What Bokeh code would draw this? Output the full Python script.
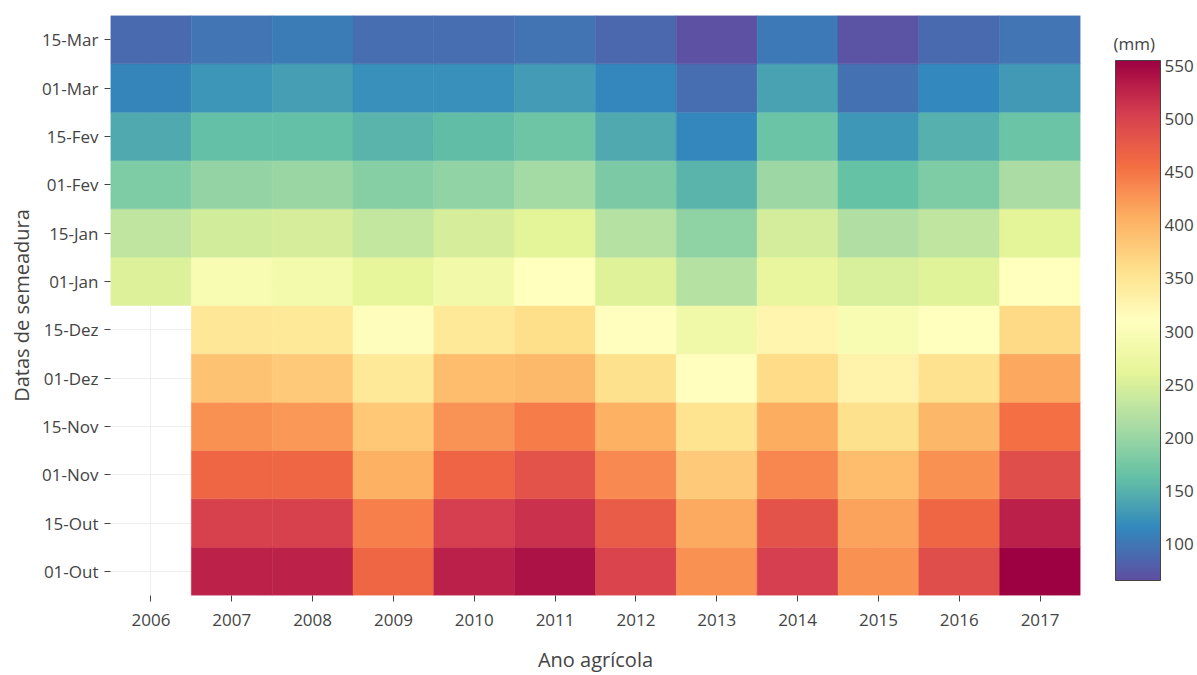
import numpy as np
from bokeh.plotting import figure
from bokeh.models import ColumnDataSource, LinearColorMapper, ColorBar, FixedTicker
from bokeh.embed import file_html
from bokeh.resources import INLINE
from bokeh.transform import transform

# ---- data ----
years = ["2006", "2007", "2008", "2009", "2010", "2011",
         "2012", "2013", "2014", "2015", "2016", "2017"]
dates = ["01-Out", "15-Out", "01-Nov", "15-Nov", "01-Dez", "15-Dez",
         "01-Jan", "15-Jan", "01-Fev", "15-Fev", "01-Mar", "15-Mar"]

v_01_out = [None, 528, 528, 465, 530, 540, 499, 430, 505, 430, 489, 554]
v_15_out = [None, 503, 503, 443, 505, 516, 474, 411, 483, 416, 465, 530]
v_01_nov = [None, 465, 465, 406, 467, 484, 436, 381, 438, 393, 430, 489]
v_15_nov = [None, 430, 424, 383, 428, 445, 406, 353, 408, 358, 399, 455]
v_01_dez = [None, 387, 381, 345, 393, 398, 358, 312, 363, 331, 355, 412]
v_15_dez = [None, 348, 345, 314, 345, 360, 312, 280, 326, 295, 310, 365]
v_01_jan = [254, 295, 287, 265, 284, 310, 256, 222, 268, 251, 258, 310]
v_15_jan = [229, 244, 249, 233, 248, 260, 222, 193, 246, 217, 229, 260]
v_01_fev = [182, 197, 200, 188, 194, 208, 180, 152, 203, 164, 182, 212]
v_15_fev = [144, 163, 163, 153, 160, 170, 143, 115, 168, 128, 150, 168]
v_01_mar = [112, 127, 134, 122, 123, 131, 115, 93, 137, 95, 116, 130]
v_15_mar = [90, 100, 105, 93, 93, 97, 88, 68, 104, 70, 90, 100]

rows = [v_01_out, v_15_out, v_01_nov, v_15_nov, v_01_dez, v_15_dez,
        v_01_jan, v_15_jan, v_01_fev, v_15_fev, v_01_mar, v_15_mar]

cb_ticks = [100, 150, 200, 250, 300, 350, 400, 450, 500, 550]

# ---- colour scale (reversed Spectral) ----
stops = [(94, 79, 162), (50, 136, 189), (102, 194, 165), (171, 221, 164),
         (230, 245, 152), (255, 255, 191), (254, 224, 139), (253, 174, 97),
         (244, 109, 67), (213, 62, 79), (158, 1, 66)]
stops = np.array(stops, dtype=float)
t = np.linspace(0, 1, 256)
pos = np.linspace(0, 1, len(stops))
palette = []
for ti in t:
    r = np.interp(ti, pos, stops[:, 0])
    g = np.interp(ti, pos, stops[:, 1])
    b = np.interp(ti, pos, stops[:, 2])
    palette.append("#%02x%02x%02x" % (int(round(r)), int(round(g)), int(round(b))))

mapper = LinearColorMapper(palette=palette, low=66, high=555)

xs, ys, zs = [], [], []
for d, row in zip(dates, rows):
    for y, v in zip(years, row):
        if v is not None:
            xs.append(y)
            ys.append(d)
            zs.append(v)
src = ColumnDataSource(dict(x=xs, y=ys, z=zs))

FONT = "Open Sans"
TXT = "#444444"

p = figure(width=1197, height=675, x_range=years, y_range=dates,
           output_backend="svg", toolbar_location=None,
           min_border_left=110, min_border_top=15, min_border_bottom=80,
           min_border_right=117)
p.outline_line_color = None

p.rect(x="x", y="y", width=1, height=1, source=src,
       fill_color=transform("z", mapper), line_color=transform("z", mapper),
       line_width=0.5)

p.xgrid.grid_line_color = "#eeeeee"
p.ygrid.grid_line_color = "#eeeeee"
p.xgrid.grid_line_width = 1
p.ygrid.grid_line_width = 1

for ax in (p.xaxis[0], p.yaxis[0]):
    ax.axis_line_color = None
    ax.major_tick_line_color = TXT
    ax.major_tick_in = 0
    ax.major_tick_out = 6
    ax.major_label_text_font = FONT
    ax.major_label_text_font_size = "17px"
    ax.major_label_text_color = TXT
    ax.axis_label_text_font = FONT
    ax.axis_label_text_font_size = "20px"
    ax.axis_label_text_font_style = "normal"
    ax.axis_label_text_color = TXT

p.xaxis.axis_label = "Ano agrícola"
p.yaxis.axis_label = "Datas de semeadura"
p.xaxis.major_label_standoff = 12
p.yaxis.major_label_standoff = 6
p.xaxis.axis_label_standoff = 17
p.yaxis.axis_label_standoff = 4

PAD = 3
cb = ColorBar(color_mapper=mapper, ticker=FixedTicker(ticks=cb_ticks),
              width=45, height=520, location=(1115 - 110 - PAD, 15 - PAD),
              major_label_text_font=FONT, major_label_text_font_size="17px",
              major_label_text_color=TXT, label_standoff=4,
              major_tick_line_color=None, minor_tick_line_color=None,
              bar_line_color=TXT, bar_line_width=1,
              border_line_color=None, background_fill_color=None,
              margin=0, padding=PAD)
p.add_layout(cb, "center")

# colour-bar title "(mm)": a horizontal colour bar whose bar is invisible,
# used only so that its (horizontal) title can sit above the real bar
cb_title = ColorBar(color_mapper=mapper, orientation="horizontal",
                    ticker=FixedTicker(ticks=[]), width=45, height=1,
                    location=(1113 - 110, 540),
                    title="(mm)", title_text_font=FONT, title_text_font_size="17px",
                    title_text_font_style="normal", title_text_color=TXT,
                    title_standoff=0, scale_alpha=0, bar_line_color=None,
                    major_tick_line_color=None, minor_tick_line_color=None,
                    major_label_text_alpha=0,
                    border_line_color=None, background_fill_color=None,
                    margin=0, padding=0)
p.add_layout(cb_title, "center")

open("out.html", "w").write(file_html(p, INLINE))
